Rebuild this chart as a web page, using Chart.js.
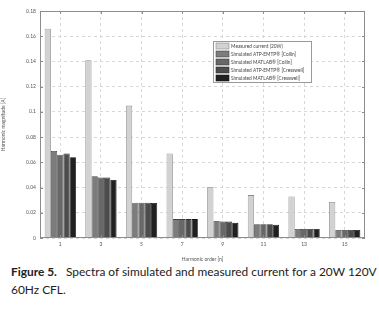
<!DOCTYPE html>
<html>
<head>
<meta charset="utf-8">
<script src="https://cdn.jsdelivr.net/npm/chart.js@4"></script>
<style>
  body { margin: 0; background: #fff; width: 379px; height: 316px; overflow: hidden; position: relative; }
  #wrap { position: absolute; left: 0; top: 0; width: 379px; height: 262px; }
  #caption { position: absolute; left: 11px; top: 263px; width: 372px; font-family: Lato, sans-serif; font-size: 11.9px; line-height: 18px; color: #222; white-space: nowrap; }
  #caption b { font-weight: bold; margin-right: 9px; }
</style>
</head>
<body>
<div id="wrap"><canvas id="myChart" width="379" height="262"></canvas></div>
<div id="caption"><b>Figure 5.</b>Spectra of simulated and measured current for a 20W 120V<br>60Hz CFL.</div>
<script>
var harmonics = ['1', '3', '5', '7', '9', '11', '13', '15'];
var seriesNames = ['Measured current (20W)', 'Simulated ATP-EMTP\u00ae [Collin]', 'Simulated MATLAB\u00ae [Collin]',
                   'Simulated ATP-EMTP\u00ae [Cresswell]', 'Simulated MATLAB\u00ae [Cresswell]'];
var measured       = [0.166, 0.141, 0.105, 0.067, 0.0405, 0.034, 0.033, 0.0285];
var atpCollin      = [0.069, 0.049, 0.028, 0.015, 0.0135, 0.011, 0.0072, 0.0064];
var matlabCollin   = [0.066, 0.048, 0.028, 0.015, 0.013, 0.011, 0.0072, 0.0064];
var atpCresswell   = [0.067, 0.048, 0.028, 0.015, 0.013, 0.011, 0.0072, 0.0063];
var matlabCresswell= [0.064, 0.046, 0.0278, 0.015, 0.012, 0.0105, 0.0072, 0.0063];
var yTicks = [0, 0.02, 0.04, 0.06, 0.08, 0.1, 0.12, 0.14, 0.16, 0.18];

var fills = ['#d2d2d2', '#7c7c7c', '#686868', '#4c4c4c', '#202020'];
var edges = ['#8a8a8a', '#444', '#3a3a3a', '#2a2a2a', '#111'];
var values = [measured, atpCollin, matlabCollin, atpCresswell, matlabCresswell];

var datasets = values.map(function (v, i) {
    return { label: seriesNames[i], data: v, backgroundColor: fills[i], borderColor: edges[i], borderWidth: 0.8,
             categoryPercentage: 0.77, barPercentage: 1.0 };
});

// draws box around plot, inward tick marks and the boxed legend
var framePlugin = {
    id: 'frame',
    afterDatasetsDraw: function (chart) {
        var c = chart.ctx, a = chart.chartArea, y = chart.scales.y, x = chart.scales.x;
        c.save();
        c.strokeStyle = '#8c8c8c';
        c.lineWidth = 1;
        c.strokeRect(a.left + 0.5, a.top + 0.5, a.right - a.left - 1, a.bottom - a.top - 1);
        c.beginPath();
        yTicks.forEach(function (t) {
            var py = Math.round(y.getPixelForValue(t)) + 0.5;
            c.moveTo(a.left, py); c.lineTo(a.left + 3, py);
            c.moveTo(a.right, py); c.lineTo(a.right - 3, py);
        });
        harmonics.forEach(function (h, i) {
            var px = Math.round(x.getPixelForValue(i)) + 0.5;
            c.moveTo(px, a.bottom); c.lineTo(px, a.bottom - 3);
            c.moveTo(px, a.top); c.lineTo(px, a.top + 3);
        });
        c.stroke();

        // legend
        var lx = 213, ly = 41, lw = 98, lh = 41;
        c.fillStyle = '#fff';
        c.fillRect(lx, ly, lw, lh);
        c.strokeStyle = '#999';
        c.strokeRect(lx + 0.5, ly + 0.5, lw, lh);
        c.font = '4.8px Lato, sans-serif';
        c.textBaseline = 'middle';
        seriesNames.forEach(function (n, i) {
            var ry = ly + 4.5 + i * 8;
            c.fillStyle = fills[i];
            c.fillRect(lx + 3, ry - 2.5, 13, 6);
            c.strokeStyle = edges[i];
            c.lineWidth = 0.6;
            c.strokeRect(lx + 3, ry - 2.5, 13, 6);
            c.fillStyle = '#444';
            c.fillText(n, lx + 18, ry + 0.5);
        });
        c.restore();
    }
};

var ctx = document.getElementById('myChart').getContext('2d');
var myChart = new Chart(ctx, {
    type: 'bar',
    data: { labels: harmonics, datasets: datasets },
    plugins: [framePlugin],
    options: {
        responsive: false, animation: false,
        layout: { padding: { left: 0, right: 14, top: 11, bottom: 0 } },
        plugins: { legend: { display: false }, tooltip: { enabled: false } },
        scales: {
            x: {
                grid: { offset: false, color: '#d8d8d8', tickLength: 0, drawTicks: false },
                border: { display: false, dash: [3, 3] },
                ticks: { color: '#555', font: { size: 5, family: 'Lato' }, padding: 3 },
                title: { display: true, text: 'Harmonic order [n]', color: '#555', font: { size: 5, family: 'Lato' }, padding: { top: 3, bottom: 0 } },
                afterFit: function (s) { s.height = 24; }
            },
            y: {
                min: 0, max: 0.18,
                afterBuildTicks: function (s) { s.ticks = yTicks.map(function (v) { return { value: v }; }); },
                grid: { color: '#d8d8d8', drawTicks: false },
                border: { display: false, dash: [3, 3] },
                ticks: { color: '#555', font: { size: 5, family: 'Lato' }, padding: 4,
                         callback: function (v) { return String(+v.toFixed(2)); } },
                title: { display: true, text: 'Harmonic magnitude [A]', color: '#555', font: { size: 5, family: 'Lato' }, padding: 0 },
                afterFit: function (s) { s.width = 40; }
            }
        }
    }
});
</script>
</body>
</html>
